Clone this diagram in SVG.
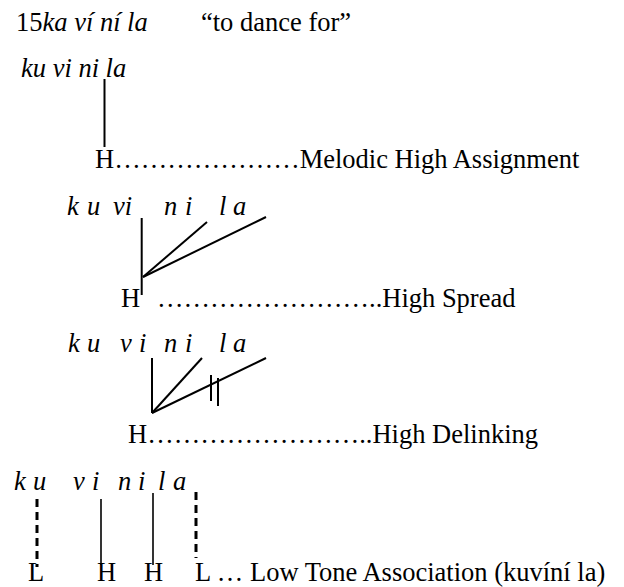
<svg xmlns="http://www.w3.org/2000/svg" width="624" height="587" viewBox="0 0 624 587">
<style>
text{font-family:'Liberation Serif',serif;font-size:26.5px;fill:#000}
.it{font-style:italic}
.ln{stroke:#000;stroke-width:2;fill:none}
.thin{stroke:#000;stroke-width:1.6;fill:none}
.dash{stroke:#000;stroke-width:3;fill:none;stroke-dasharray:8 5}
</style>
<rect width="624" height="587" fill="#fff"/>
<g id="title">
<text x="16" y="31">15<tspan class="it">ka ví ní la</tspan></text>
<text x="201" y="31">“to dance for”</text>
</g>
<g id="step1">
<text class="it" x="21" y="77">ku vi ni la</text>
<text x="95" y="168">H&#8230;&#8230;&#8230;&#8230;&#8230;&#8230;&#8230;Melodic High Assignment</text>
</g>
<g id="step2">
<text class="it"><tspan x="67" y="215">k</tspan><tspan x="87" y="215">u</tspan><tspan x="113" y="215">vi</tspan><tspan x="164" y="215">n</tspan><tspan x="185" y="215">i</tspan><tspan x="219" y="215">l</tspan><tspan x="233" y="215">a</tspan></text>
<text x="121" y="307">H</text>
<text x="157" y="307">&#8230;&#8230;&#8230;&#8230;&#8230;&#8230;&#8230;&#8230;..High Spread</text>
</g>
<g id="step3">
<text class="it"><tspan x="68" y="352">k</tspan><tspan x="87" y="352">u</tspan><tspan x="120" y="352">v</tspan><tspan x="139" y="352">i</tspan><tspan x="164" y="352">n</tspan><tspan x="185" y="352">i</tspan><tspan x="219" y="352">l</tspan><tspan x="233" y="352">a</tspan></text>
<text x="128" y="443">H&#8230;&#8230;&#8230;&#8230;&#8230;&#8230;&#8230;&#8230;..High Delinking</text>
</g>
<g id="step4">
<text class="it"><tspan x="14" y="490">k</tspan><tspan x="33" y="490">u</tspan><tspan x="73" y="490">v</tspan><tspan x="92" y="490">i</tspan><tspan x="118" y="490">n</tspan><tspan x="138" y="490">i</tspan><tspan x="158" y="490">l</tspan><tspan x="173" y="490">a</tspan></text>
<text x="28" y="581">L</text>
<text x="97" y="581">H</text>
<text x="144" y="581">H</text>
<text x="195" y="581">L … Low Tone Association (kuvíní la)</text>
</g>
<g id="connectors">
<line class="ln" x1="104.5" y1="79" x2="104.5" y2="147"/>
<line class="ln" x1="141.7" y1="218" x2="141.7" y2="295"/>
<line class="ln" x1="143" y1="277" x2="207" y2="222"/>
<line class="ln" x1="143" y1="277" x2="266" y2="217"/>
<line class="ln" x1="152" y1="358" x2="152" y2="413"/>
<line class="ln" x1="152" y1="413" x2="202" y2="358"/>
<line class="ln" x1="152" y1="413" x2="266" y2="358"/>
<line class="ln" x1="211" y1="375" x2="211" y2="401"/>
<line class="ln" x1="218" y1="378" x2="218" y2="406"/>
<line class="dash" x1="37" y1="499" x2="37" y2="567"/>
<line class="thin" x1="101" y1="499" x2="101" y2="565"/>
<line class="thin" x1="153" y1="493" x2="153" y2="565"/>
<line class="dash" x1="196" y1="492" x2="196" y2="558"/>
</g>
</svg>
